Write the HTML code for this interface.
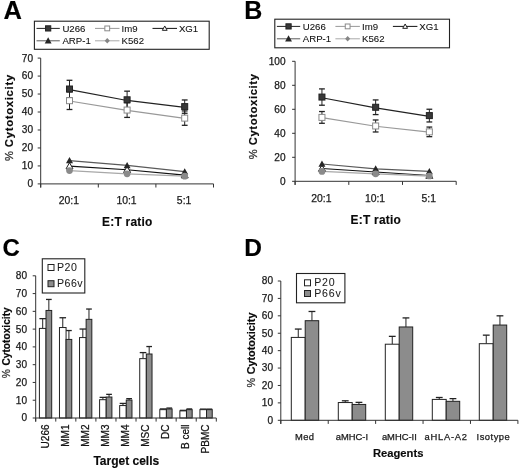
<!DOCTYPE html><html><head><meta charset="utf-8"><style>html,body{margin:0;padding:0;background:#fff;}svg{display:block;filter:blur(0.3px);}text{font-family:"Liberation Sans",sans-serif;}</style></head><body>
<svg width="520" height="469" viewBox="0 0 520 469">
<rect width="520" height="469" fill="#fff"/>
<line x1="40.70" y1="58.10" x2="40.70" y2="187.50" stroke="#333" stroke-width="1"/>
<line x1="37.70" y1="183.90" x2="40.70" y2="183.90" stroke="#333" stroke-width="1"/>
<text x="33.10" y="187.30" font-size="10.1" text-anchor="end" font-weight="normal" fill="#1a1a1a" stroke="#1a1a1a" stroke-width="0.25" >0</text>
<line x1="37.70" y1="165.93" x2="40.70" y2="165.93" stroke="#333" stroke-width="1"/>
<text x="33.10" y="169.33" font-size="10.1" text-anchor="end" font-weight="normal" fill="#1a1a1a" stroke="#1a1a1a" stroke-width="0.25" >10</text>
<line x1="37.70" y1="147.96" x2="40.70" y2="147.96" stroke="#333" stroke-width="1"/>
<text x="33.10" y="151.36" font-size="10.1" text-anchor="end" font-weight="normal" fill="#1a1a1a" stroke="#1a1a1a" stroke-width="0.25" >20</text>
<line x1="37.70" y1="129.99" x2="40.70" y2="129.99" stroke="#333" stroke-width="1"/>
<text x="33.10" y="133.39" font-size="10.1" text-anchor="end" font-weight="normal" fill="#1a1a1a" stroke="#1a1a1a" stroke-width="0.25" >30</text>
<line x1="37.70" y1="112.01" x2="40.70" y2="112.01" stroke="#333" stroke-width="1"/>
<text x="33.10" y="115.41" font-size="10.1" text-anchor="end" font-weight="normal" fill="#1a1a1a" stroke="#1a1a1a" stroke-width="0.25" >40</text>
<line x1="37.70" y1="94.04" x2="40.70" y2="94.04" stroke="#333" stroke-width="1"/>
<text x="33.10" y="97.44" font-size="10.1" text-anchor="end" font-weight="normal" fill="#1a1a1a" stroke="#1a1a1a" stroke-width="0.25" >50</text>
<line x1="37.70" y1="76.07" x2="40.70" y2="76.07" stroke="#333" stroke-width="1"/>
<text x="33.10" y="79.47" font-size="10.1" text-anchor="end" font-weight="normal" fill="#1a1a1a" stroke="#1a1a1a" stroke-width="0.25" >60</text>
<line x1="37.70" y1="58.10" x2="40.70" y2="58.10" stroke="#333" stroke-width="1"/>
<text x="33.10" y="61.50" font-size="10.1" text-anchor="end" font-weight="normal" fill="#1a1a1a" stroke="#1a1a1a" stroke-width="0.25" >70</text>
<line x1="40.70" y1="183.90" x2="213.50" y2="183.90" stroke="#333" stroke-width="1"/>
<line x1="40.70" y1="183.90" x2="40.70" y2="187.50" stroke="#333" stroke-width="1"/>
<line x1="98.30" y1="183.90" x2="98.30" y2="187.50" stroke="#333" stroke-width="1"/>
<line x1="155.90" y1="183.90" x2="155.90" y2="187.50" stroke="#333" stroke-width="1"/>
<line x1="213.50" y1="183.90" x2="213.50" y2="187.50" stroke="#333" stroke-width="1"/>
<text x="68.90" y="204.40" font-size="10.4" text-anchor="middle" font-weight="normal" fill="#1a1a1a" stroke="#1a1a1a" stroke-width="0.25" >20:1</text>
<text x="126.50" y="204.40" font-size="10.4" text-anchor="middle" font-weight="normal" fill="#1a1a1a" stroke="#1a1a1a" stroke-width="0.25" >10:1</text>
<text x="184.10" y="204.40" font-size="10.4" text-anchor="middle" font-weight="normal" fill="#1a1a1a" stroke="#1a1a1a" stroke-width="0.25" >5:1</text>
<text x="127.30" y="226.10" font-size="11.9" text-anchor="middle" font-weight="bold" fill="#0a0a0a" stroke="#0a0a0a" stroke-width="0.15" letter-spacing="0.25">E:T ratio</text>
<line x1="69.50" y1="80.29" x2="69.50" y2="97.73" stroke="#222" stroke-width="1"/>
<line x1="66.60" y1="80.29" x2="72.40" y2="80.29" stroke="#222" stroke-width="1.3"/>
<line x1="66.60" y1="97.73" x2="72.40" y2="97.73" stroke="#222" stroke-width="1.3"/>
<line x1="127.10" y1="91.17" x2="127.10" y2="108.42" stroke="#222" stroke-width="1"/>
<line x1="124.20" y1="91.17" x2="130.00" y2="91.17" stroke="#222" stroke-width="1.3"/>
<line x1="124.20" y1="108.42" x2="130.00" y2="108.42" stroke="#222" stroke-width="1.3"/>
<line x1="184.70" y1="99.97" x2="184.70" y2="113.27" stroke="#222" stroke-width="1"/>
<line x1="181.80" y1="99.97" x2="187.60" y2="99.97" stroke="#222" stroke-width="1.3"/>
<line x1="181.80" y1="113.27" x2="187.60" y2="113.27" stroke="#222" stroke-width="1.3"/>
<line x1="69.50" y1="91.89" x2="69.50" y2="109.50" stroke="#222" stroke-width="1"/>
<line x1="66.60" y1="91.89" x2="72.40" y2="91.89" stroke="#222" stroke-width="1.3"/>
<line x1="66.60" y1="109.50" x2="72.40" y2="109.50" stroke="#222" stroke-width="1.3"/>
<line x1="127.10" y1="102.67" x2="127.10" y2="117.41" stroke="#222" stroke-width="1"/>
<line x1="124.20" y1="102.67" x2="130.00" y2="102.67" stroke="#222" stroke-width="1.3"/>
<line x1="124.20" y1="117.41" x2="130.00" y2="117.41" stroke="#222" stroke-width="1.3"/>
<line x1="184.70" y1="110.94" x2="184.70" y2="125.31" stroke="#222" stroke-width="1"/>
<line x1="181.80" y1="110.94" x2="187.60" y2="110.94" stroke="#222" stroke-width="1.3"/>
<line x1="181.80" y1="125.31" x2="187.60" y2="125.31" stroke="#222" stroke-width="1.3"/>
<polyline points="69.50,89.71 127.10,100.49 184.70,107.32" fill="none" stroke="#222" stroke-width="1.25"/>
<polyline points="69.50,100.99 127.10,110.34 184.70,118.42" fill="none" stroke="#999" stroke-width="1.2"/>
<polyline points="69.50,166.11 127.10,169.70 184.70,175.09" fill="none" stroke="#111" stroke-width="1.1"/>
<polyline points="69.50,160.54 127.10,165.39 184.70,171.68" fill="none" stroke="#5a5a5a" stroke-width="1.2"/>
<polyline points="69.50,170.60 127.10,173.84 184.70,176.17" fill="none" stroke="#a8a8a8" stroke-width="1.4"/>
<rect x="66.50" y="86.01" width="6.00" height="6.00" fill="#383838" stroke="#222" stroke-width="1"/>
<rect x="124.10" y="96.79" width="6.00" height="6.00" fill="#383838" stroke="#222" stroke-width="1"/>
<rect x="181.70" y="103.62" width="6.00" height="6.00" fill="#383838" stroke="#222" stroke-width="1"/>
<rect x="66.50" y="97.69" width="6.00" height="6.00" fill="#fff" stroke="#8a8a8a" stroke-width="1"/>
<rect x="124.10" y="107.04" width="6.00" height="6.00" fill="#fff" stroke="#8a8a8a" stroke-width="1"/>
<rect x="181.70" y="115.12" width="6.00" height="6.00" fill="#fff" stroke="#8a8a8a" stroke-width="1"/>
<polygon points="69.50,162.61 73.00,168.91 66.00,168.91" fill="#fff" stroke="#222" stroke-width="1"/>
<polygon points="127.10,166.20 130.60,172.50 123.60,172.50" fill="#fff" stroke="#222" stroke-width="1"/>
<polygon points="184.70,171.59 188.20,177.89 181.20,177.89" fill="#fff" stroke="#222" stroke-width="1"/>
<polygon points="69.50,157.04 73.00,163.34 66.00,163.34" fill="#262626"/>
<polygon points="127.10,161.89 130.60,168.19 123.60,168.19" fill="#262626"/>
<polygon points="184.70,168.18 188.20,174.48 181.20,174.48" fill="#262626"/>
<circle cx="69.50" cy="170.60" r="3.35" fill="#8a8a8a"/>
<circle cx="127.10" cy="173.84" r="3.35" fill="#8a8a8a"/>
<circle cx="184.70" cy="176.17" r="3.35" fill="#8a8a8a"/>
<text transform="translate(12.50,117.60) rotate(-90)" font-size="11.2" fill="#0a0a0a" text-anchor="middle"><tspan font-weight="normal" fill="#333" stroke="#333" stroke-width="0.25">%</tspan><tspan font-weight="bold" dx="4" letter-spacing="0.75" stroke="#0a0a0a" stroke-width="0.15">Cytotoxicity</tspan></text>
<rect x="34.40" y="21.20" width="174.80" height="28.10" fill="#fff" stroke="#222" stroke-width="1.1"/>
<line x1="36.50" y1="28.40" x2="59.80" y2="28.40" stroke="#222" stroke-width="1"/>
<rect x="45.54" y="25.79" width="5.22" height="5.22" fill="#383838" stroke="#222" stroke-width="1"/>
<text x="62.40" y="31.90" font-size="9.65" text-anchor="start" font-weight="normal" fill="#111" stroke="#111" stroke-width="0.08" >U266</text>
<line x1="95.00" y1="28.40" x2="119.50" y2="28.40" stroke="#999" stroke-width="1"/>
<rect x="104.85" y="26.00" width="4.80" height="4.80" fill="#fff" stroke="#8a8a8a" stroke-width="1"/>
<text x="121.60" y="31.90" font-size="9.65" text-anchor="start" font-weight="normal" fill="#111" stroke="#111" stroke-width="0.08" >Im9</text>
<line x1="152.50" y1="28.40" x2="177.00" y2="28.40" stroke="#111" stroke-width="1"/>
<polygon points="164.75,25.98 167.16,30.33 162.34,30.33" fill="#fff" stroke="#222" stroke-width="1"/>
<text x="178.90" y="31.90" font-size="9.65" text-anchor="start" font-weight="normal" fill="#111" stroke="#111" stroke-width="0.08" >XG1</text>
<line x1="36.50" y1="40.80" x2="59.80" y2="40.80" stroke="#5a5a5a" stroke-width="1"/>
<polygon points="48.15,37.37 51.58,43.54 44.72,43.54" fill="#262626"/>
<text x="62.40" y="44.30" font-size="9.65" text-anchor="start" font-weight="normal" fill="#111" stroke="#111" stroke-width="0.08" >ARP-1</text>
<line x1="95.00" y1="40.80" x2="119.50" y2="40.80" stroke="#a8a8a8" stroke-width="1"/>
<polygon points="107.25,38.00 109.77,40.80 107.25,43.60 104.73,40.80" fill="#858585"/>
<text x="121.60" y="44.30" font-size="9.65" text-anchor="start" font-weight="normal" fill="#111" stroke="#111" stroke-width="0.08" >K562</text>
<text x="3.40" y="18.90" font-size="25.5" text-anchor="start" font-weight="bold" fill="#000" stroke="#000" stroke-width="0.15" >A</text>
<line x1="295.10" y1="61.30" x2="295.10" y2="184.90" stroke="#333" stroke-width="1"/>
<line x1="292.10" y1="181.30" x2="295.10" y2="181.30" stroke="#333" stroke-width="1"/>
<text x="285.50" y="184.70" font-size="10.1" text-anchor="end" font-weight="normal" fill="#1a1a1a" stroke="#1a1a1a" stroke-width="0.25" >0</text>
<line x1="292.10" y1="157.30" x2="295.10" y2="157.30" stroke="#333" stroke-width="1"/>
<text x="285.50" y="160.70" font-size="10.1" text-anchor="end" font-weight="normal" fill="#1a1a1a" stroke="#1a1a1a" stroke-width="0.25" >20</text>
<line x1="292.10" y1="133.30" x2="295.10" y2="133.30" stroke="#333" stroke-width="1"/>
<text x="285.50" y="136.70" font-size="10.1" text-anchor="end" font-weight="normal" fill="#1a1a1a" stroke="#1a1a1a" stroke-width="0.25" >40</text>
<line x1="292.10" y1="109.30" x2="295.10" y2="109.30" stroke="#333" stroke-width="1"/>
<text x="285.50" y="112.70" font-size="10.1" text-anchor="end" font-weight="normal" fill="#1a1a1a" stroke="#1a1a1a" stroke-width="0.25" >60</text>
<line x1="292.10" y1="85.30" x2="295.10" y2="85.30" stroke="#333" stroke-width="1"/>
<text x="285.50" y="88.70" font-size="10.1" text-anchor="end" font-weight="normal" fill="#1a1a1a" stroke="#1a1a1a" stroke-width="0.25" >80</text>
<line x1="292.10" y1="61.30" x2="295.10" y2="61.30" stroke="#333" stroke-width="1"/>
<text x="285.50" y="64.70" font-size="10.1" text-anchor="end" font-weight="normal" fill="#1a1a1a" stroke="#1a1a1a" stroke-width="0.25" >100</text>
<line x1="295.10" y1="181.30" x2="456.20" y2="181.30" stroke="#333" stroke-width="1"/>
<line x1="295.10" y1="181.30" x2="295.10" y2="184.90" stroke="#333" stroke-width="1"/>
<line x1="348.80" y1="181.30" x2="348.80" y2="184.90" stroke="#333" stroke-width="1"/>
<line x1="402.50" y1="181.30" x2="402.50" y2="184.90" stroke="#333" stroke-width="1"/>
<line x1="456.20" y1="181.30" x2="456.20" y2="184.90" stroke="#333" stroke-width="1"/>
<text x="321.35" y="201.80" font-size="10.4" text-anchor="middle" font-weight="normal" fill="#1a1a1a" stroke="#1a1a1a" stroke-width="0.25" >20:1</text>
<text x="375.05" y="201.80" font-size="10.4" text-anchor="middle" font-weight="normal" fill="#1a1a1a" stroke="#1a1a1a" stroke-width="0.25" >10:1</text>
<text x="428.75" y="201.80" font-size="10.4" text-anchor="middle" font-weight="normal" fill="#1a1a1a" stroke="#1a1a1a" stroke-width="0.25" >5:1</text>
<text x="375.85" y="224.40" font-size="11.9" text-anchor="middle" font-weight="bold" fill="#0a0a0a" stroke="#0a0a0a" stroke-width="0.15" letter-spacing="0.25">E:T ratio</text>
<line x1="321.95" y1="88.90" x2="321.95" y2="105.22" stroke="#222" stroke-width="1"/>
<line x1="319.05" y1="88.90" x2="324.85" y2="88.90" stroke="#222" stroke-width="1.3"/>
<line x1="319.05" y1="105.22" x2="324.85" y2="105.22" stroke="#222" stroke-width="1.3"/>
<line x1="375.65" y1="99.94" x2="375.65" y2="114.58" stroke="#222" stroke-width="1"/>
<line x1="372.75" y1="99.94" x2="378.55" y2="99.94" stroke="#222" stroke-width="1.3"/>
<line x1="372.75" y1="114.58" x2="378.55" y2="114.58" stroke="#222" stroke-width="1.3"/>
<line x1="429.35" y1="109.24" x2="429.35" y2="121.96" stroke="#222" stroke-width="1"/>
<line x1="426.45" y1="109.24" x2="432.25" y2="109.24" stroke="#222" stroke-width="1.3"/>
<line x1="426.45" y1="121.96" x2="432.25" y2="121.96" stroke="#222" stroke-width="1.3"/>
<line x1="321.95" y1="111.52" x2="321.95" y2="123.28" stroke="#222" stroke-width="1"/>
<line x1="319.05" y1="111.52" x2="324.85" y2="111.52" stroke="#222" stroke-width="1.3"/>
<line x1="319.05" y1="123.28" x2="324.85" y2="123.28" stroke="#222" stroke-width="1.3"/>
<line x1="375.65" y1="119.98" x2="375.65" y2="131.98" stroke="#222" stroke-width="1"/>
<line x1="372.75" y1="119.98" x2="378.55" y2="119.98" stroke="#222" stroke-width="1.3"/>
<line x1="372.75" y1="131.98" x2="378.55" y2="131.98" stroke="#222" stroke-width="1.3"/>
<line x1="429.35" y1="127.06" x2="429.35" y2="136.66" stroke="#222" stroke-width="1"/>
<line x1="426.45" y1="127.06" x2="432.25" y2="127.06" stroke="#222" stroke-width="1.3"/>
<line x1="426.45" y1="136.66" x2="432.25" y2="136.66" stroke="#222" stroke-width="1.3"/>
<polyline points="321.95,97.76 375.65,107.96 429.35,116.30" fill="none" stroke="#222" stroke-width="1.25"/>
<polyline points="321.95,117.70 375.65,126.28 429.35,132.16" fill="none" stroke="#999" stroke-width="1.2"/>
<polyline points="321.95,168.46 375.65,171.94 429.35,175.54" fill="none" stroke="#111" stroke-width="1.1"/>
<polyline points="321.95,164.02 375.65,168.82 429.35,171.46" fill="none" stroke="#5a5a5a" stroke-width="1.2"/>
<polyline points="321.95,171.40 375.65,173.86 429.35,176.02" fill="none" stroke="#a8a8a8" stroke-width="1.4"/>
<rect x="318.95" y="94.06" width="6.00" height="6.00" fill="#383838" stroke="#222" stroke-width="1"/>
<rect x="372.65" y="104.26" width="6.00" height="6.00" fill="#383838" stroke="#222" stroke-width="1"/>
<rect x="426.35" y="112.60" width="6.00" height="6.00" fill="#383838" stroke="#222" stroke-width="1"/>
<rect x="318.95" y="114.40" width="6.00" height="6.00" fill="#fff" stroke="#8a8a8a" stroke-width="1"/>
<rect x="372.65" y="122.98" width="6.00" height="6.00" fill="#fff" stroke="#8a8a8a" stroke-width="1"/>
<rect x="426.35" y="128.86" width="6.00" height="6.00" fill="#fff" stroke="#8a8a8a" stroke-width="1"/>
<polygon points="321.95,164.96 325.45,171.26 318.45,171.26" fill="#fff" stroke="#222" stroke-width="1"/>
<polygon points="375.65,168.44 379.15,174.74 372.15,174.74" fill="#fff" stroke="#222" stroke-width="1"/>
<polygon points="429.35,172.04 432.85,178.34 425.85,178.34" fill="#fff" stroke="#222" stroke-width="1"/>
<polygon points="321.95,160.52 325.45,166.82 318.45,166.82" fill="#262626"/>
<polygon points="375.65,165.32 379.15,171.62 372.15,171.62" fill="#262626"/>
<polygon points="429.35,167.96 432.85,174.26 425.85,174.26" fill="#262626"/>
<circle cx="321.95" cy="171.40" r="3.35" fill="#8a8a8a"/>
<circle cx="375.65" cy="173.86" r="3.35" fill="#8a8a8a"/>
<circle cx="429.35" cy="176.02" r="3.35" fill="#8a8a8a"/>
<text transform="translate(257.20,116.30) rotate(-90)" font-size="11.2" fill="#0a0a0a" text-anchor="middle"><tspan font-weight="normal" fill="#333" stroke="#333" stroke-width="0.25">%</tspan><tspan font-weight="bold" dx="4" letter-spacing="0.65" stroke="#0a0a0a" stroke-width="0.15">Cytotoxicity</tspan></text>
<rect x="274.80" y="19.20" width="174.70" height="28.60" fill="#fff" stroke="#222" stroke-width="1.1"/>
<line x1="276.90" y1="26.40" x2="300.20" y2="26.40" stroke="#222" stroke-width="1"/>
<rect x="285.94" y="23.79" width="5.22" height="5.22" fill="#383838" stroke="#222" stroke-width="1"/>
<text x="302.80" y="29.90" font-size="9.65" text-anchor="start" font-weight="normal" fill="#111" stroke="#111" stroke-width="0.08" >U266</text>
<line x1="335.40" y1="26.40" x2="359.90" y2="26.40" stroke="#999" stroke-width="1"/>
<rect x="345.25" y="24.00" width="4.80" height="4.80" fill="#fff" stroke="#8a8a8a" stroke-width="1"/>
<text x="362.00" y="29.90" font-size="9.65" text-anchor="start" font-weight="normal" fill="#111" stroke="#111" stroke-width="0.08" >Im9</text>
<line x1="392.90" y1="26.40" x2="417.40" y2="26.40" stroke="#111" stroke-width="1"/>
<polygon points="405.15,23.98 407.56,28.33 402.73,28.33" fill="#fff" stroke="#222" stroke-width="1"/>
<text x="419.30" y="29.90" font-size="9.65" text-anchor="start" font-weight="normal" fill="#111" stroke="#111" stroke-width="0.08" >XG1</text>
<line x1="276.90" y1="38.80" x2="300.20" y2="38.80" stroke="#5a5a5a" stroke-width="1"/>
<polygon points="288.55,35.37 291.98,41.54 285.12,41.54" fill="#262626"/>
<text x="302.80" y="42.30" font-size="9.65" text-anchor="start" font-weight="normal" fill="#111" stroke="#111" stroke-width="0.08" >ARP-1</text>
<line x1="335.40" y1="38.80" x2="359.90" y2="38.80" stroke="#a8a8a8" stroke-width="1"/>
<polygon points="347.65,36.00 350.17,38.80 347.65,41.60 345.13,38.80" fill="#858585"/>
<text x="362.00" y="42.30" font-size="9.65" text-anchor="start" font-weight="normal" fill="#111" stroke="#111" stroke-width="0.08" >K562</text>
<text x="244.20" y="19.10" font-size="25" text-anchor="start" font-weight="bold" fill="#000" stroke="#000" stroke-width="0.15" >B</text>
<line x1="42.70" y1="318.64" x2="42.70" y2="328.41" stroke="#222" stroke-width="1"/>
<line x1="39.40" y1="318.64" x2="46.00" y2="318.64" stroke="#222" stroke-width="1.3"/>
<line x1="48.85" y1="299.44" x2="48.85" y2="310.46" stroke="#222" stroke-width="1"/>
<line x1="46.00" y1="299.44" x2="51.70" y2="299.44" stroke="#222" stroke-width="1.3"/>
<rect x="39.40" y="328.41" width="6.60" height="89.59" fill="#fff" stroke="#222" stroke-width="1"/>
<rect x="46.00" y="310.46" width="5.70" height="107.54" fill="#8c8c8c" stroke="#222" stroke-width="1"/>
<line x1="62.77" y1="317.75" x2="62.77" y2="327.53" stroke="#222" stroke-width="1"/>
<line x1="59.47" y1="317.75" x2="66.07" y2="317.75" stroke="#222" stroke-width="1.3"/>
<line x1="68.92" y1="330.55" x2="68.92" y2="339.43" stroke="#222" stroke-width="1"/>
<line x1="66.07" y1="330.55" x2="71.77" y2="330.55" stroke="#222" stroke-width="1.3"/>
<rect x="59.47" y="327.53" width="6.60" height="90.47" fill="#fff" stroke="#222" stroke-width="1"/>
<rect x="66.07" y="339.43" width="5.70" height="78.57" fill="#8c8c8c" stroke="#222" stroke-width="1"/>
<line x1="82.83" y1="329.04" x2="82.83" y2="337.57" stroke="#222" stroke-width="1"/>
<line x1="79.53" y1="329.04" x2="86.13" y2="329.04" stroke="#222" stroke-width="1.3"/>
<line x1="88.98" y1="309.04" x2="88.98" y2="319.35" stroke="#222" stroke-width="1"/>
<line x1="86.13" y1="309.04" x2="91.83" y2="309.04" stroke="#222" stroke-width="1.3"/>
<rect x="79.53" y="337.57" width="6.60" height="80.43" fill="#fff" stroke="#222" stroke-width="1"/>
<rect x="86.13" y="319.35" width="5.70" height="98.65" fill="#8c8c8c" stroke="#222" stroke-width="1"/>
<line x1="102.90" y1="397.38" x2="102.90" y2="399.69" stroke="#222" stroke-width="1"/>
<line x1="99.60" y1="397.38" x2="106.20" y2="397.38" stroke="#222" stroke-width="1.3"/>
<line x1="109.05" y1="394.36" x2="109.05" y2="397.03" stroke="#222" stroke-width="1"/>
<line x1="106.20" y1="394.36" x2="111.90" y2="394.36" stroke="#222" stroke-width="1.3"/>
<rect x="99.60" y="399.69" width="6.60" height="18.31" fill="#fff" stroke="#222" stroke-width="1"/>
<rect x="106.20" y="397.03" width="5.70" height="20.97" fill="#8c8c8c" stroke="#222" stroke-width="1"/>
<line x1="122.97" y1="403.42" x2="122.97" y2="405.56" stroke="#222" stroke-width="1"/>
<line x1="119.67" y1="403.42" x2="126.27" y2="403.42" stroke="#222" stroke-width="1.3"/>
<line x1="129.12" y1="398.63" x2="129.12" y2="400.05" stroke="#222" stroke-width="1"/>
<line x1="126.27" y1="398.63" x2="131.97" y2="398.63" stroke="#222" stroke-width="1.3"/>
<rect x="119.67" y="405.56" width="6.60" height="12.44" fill="#fff" stroke="#222" stroke-width="1"/>
<rect x="126.27" y="400.05" width="5.70" height="17.95" fill="#8c8c8c" stroke="#222" stroke-width="1"/>
<line x1="143.03" y1="352.59" x2="143.03" y2="358.63" stroke="#222" stroke-width="1"/>
<line x1="139.73" y1="352.59" x2="146.33" y2="352.59" stroke="#222" stroke-width="1.3"/>
<line x1="149.18" y1="346.54" x2="149.18" y2="354.01" stroke="#222" stroke-width="1"/>
<line x1="146.33" y1="346.54" x2="152.03" y2="346.54" stroke="#222" stroke-width="1.3"/>
<rect x="139.73" y="358.63" width="6.60" height="59.37" fill="#fff" stroke="#222" stroke-width="1"/>
<rect x="146.33" y="354.01" width="5.70" height="63.99" fill="#8c8c8c" stroke="#222" stroke-width="1"/>
<line x1="163.10" y1="408.93" x2="163.10" y2="409.65" stroke="#222" stroke-width="1"/>
<line x1="159.80" y1="408.93" x2="166.40" y2="408.93" stroke="#222" stroke-width="1.3"/>
<line x1="169.25" y1="408.05" x2="169.25" y2="408.93" stroke="#222" stroke-width="1"/>
<line x1="166.40" y1="408.05" x2="172.10" y2="408.05" stroke="#222" stroke-width="1.3"/>
<rect x="159.80" y="409.65" width="6.60" height="8.35" fill="#fff" stroke="#222" stroke-width="1"/>
<rect x="166.40" y="408.93" width="5.70" height="9.07" fill="#8c8c8c" stroke="#222" stroke-width="1"/>
<line x1="183.17" y1="410.36" x2="183.17" y2="410.89" stroke="#222" stroke-width="1"/>
<line x1="179.87" y1="410.36" x2="186.47" y2="410.36" stroke="#222" stroke-width="1.3"/>
<line x1="189.32" y1="408.93" x2="189.32" y2="409.65" stroke="#222" stroke-width="1"/>
<line x1="186.47" y1="408.93" x2="192.17" y2="408.93" stroke="#222" stroke-width="1.3"/>
<rect x="179.87" y="410.89" width="6.60" height="7.11" fill="#fff" stroke="#222" stroke-width="1"/>
<rect x="186.47" y="409.65" width="5.70" height="8.35" fill="#8c8c8c" stroke="#222" stroke-width="1"/>
<line x1="203.23" y1="409.11" x2="203.23" y2="409.65" stroke="#222" stroke-width="1"/>
<line x1="199.93" y1="409.11" x2="206.53" y2="409.11" stroke="#222" stroke-width="1.3"/>
<line x1="209.38" y1="409.11" x2="209.38" y2="409.65" stroke="#222" stroke-width="1"/>
<line x1="206.53" y1="409.11" x2="212.23" y2="409.11" stroke="#222" stroke-width="1.3"/>
<rect x="199.93" y="409.65" width="6.60" height="8.35" fill="#fff" stroke="#222" stroke-width="1"/>
<rect x="206.53" y="409.65" width="5.70" height="8.35" fill="#8c8c8c" stroke="#222" stroke-width="1"/>
<line x1="35.70" y1="275.80" x2="35.70" y2="421.60" stroke="#333" stroke-width="1"/>
<line x1="32.70" y1="418.00" x2="35.70" y2="418.00" stroke="#333" stroke-width="1"/>
<text x="27.10" y="421.40" font-size="10.1" text-anchor="end" font-weight="normal" fill="#1a1a1a" stroke="#1a1a1a" stroke-width="0.25" >0</text>
<line x1="32.70" y1="400.23" x2="35.70" y2="400.23" stroke="#333" stroke-width="1"/>
<text x="27.10" y="403.62" font-size="10.1" text-anchor="end" font-weight="normal" fill="#1a1a1a" stroke="#1a1a1a" stroke-width="0.25" >10</text>
<line x1="32.70" y1="382.45" x2="35.70" y2="382.45" stroke="#333" stroke-width="1"/>
<text x="27.10" y="385.85" font-size="10.1" text-anchor="end" font-weight="normal" fill="#1a1a1a" stroke="#1a1a1a" stroke-width="0.25" >20</text>
<line x1="32.70" y1="364.68" x2="35.70" y2="364.68" stroke="#333" stroke-width="1"/>
<text x="27.10" y="368.07" font-size="10.1" text-anchor="end" font-weight="normal" fill="#1a1a1a" stroke="#1a1a1a" stroke-width="0.25" >30</text>
<line x1="32.70" y1="346.90" x2="35.70" y2="346.90" stroke="#333" stroke-width="1"/>
<text x="27.10" y="350.30" font-size="10.1" text-anchor="end" font-weight="normal" fill="#1a1a1a" stroke="#1a1a1a" stroke-width="0.25" >40</text>
<line x1="32.70" y1="329.12" x2="35.70" y2="329.12" stroke="#333" stroke-width="1"/>
<text x="27.10" y="332.52" font-size="10.1" text-anchor="end" font-weight="normal" fill="#1a1a1a" stroke="#1a1a1a" stroke-width="0.25" >50</text>
<line x1="32.70" y1="311.35" x2="35.70" y2="311.35" stroke="#333" stroke-width="1"/>
<text x="27.10" y="314.75" font-size="10.1" text-anchor="end" font-weight="normal" fill="#1a1a1a" stroke="#1a1a1a" stroke-width="0.25" >60</text>
<line x1="32.70" y1="293.58" x2="35.70" y2="293.58" stroke="#333" stroke-width="1"/>
<text x="27.10" y="296.98" font-size="10.1" text-anchor="end" font-weight="normal" fill="#1a1a1a" stroke="#1a1a1a" stroke-width="0.25" >70</text>
<line x1="32.70" y1="275.80" x2="35.70" y2="275.80" stroke="#333" stroke-width="1"/>
<text x="27.10" y="279.20" font-size="10.1" text-anchor="end" font-weight="normal" fill="#1a1a1a" stroke="#1a1a1a" stroke-width="0.25" >80</text>
<line x1="35.70" y1="418.00" x2="216.30" y2="418.00" stroke="#333" stroke-width="1"/>
<line x1="35.70" y1="418.00" x2="35.70" y2="421.60" stroke="#333" stroke-width="1"/>
<line x1="55.77" y1="418.00" x2="55.77" y2="421.60" stroke="#333" stroke-width="1"/>
<line x1="75.83" y1="418.00" x2="75.83" y2="421.60" stroke="#333" stroke-width="1"/>
<line x1="95.90" y1="418.00" x2="95.90" y2="421.60" stroke="#333" stroke-width="1"/>
<line x1="115.97" y1="418.00" x2="115.97" y2="421.60" stroke="#333" stroke-width="1"/>
<line x1="136.03" y1="418.00" x2="136.03" y2="421.60" stroke="#333" stroke-width="1"/>
<line x1="156.10" y1="418.00" x2="156.10" y2="421.60" stroke="#333" stroke-width="1"/>
<line x1="176.17" y1="418.00" x2="176.17" y2="421.60" stroke="#333" stroke-width="1"/>
<line x1="196.23" y1="418.00" x2="196.23" y2="421.60" stroke="#333" stroke-width="1"/>
<line x1="216.30" y1="418.00" x2="216.30" y2="421.60" stroke="#333" stroke-width="1"/>
<text transform="translate(48.83,424.50) rotate(-90)" font-size="10" text-anchor="end" fill="#111" stroke="#111" stroke-width="0.25">U266</text>
<text transform="translate(68.90,424.50) rotate(-90)" font-size="10" text-anchor="end" fill="#111" stroke="#111" stroke-width="0.25">MM1</text>
<text transform="translate(88.97,424.50) rotate(-90)" font-size="10" text-anchor="end" fill="#111" stroke="#111" stroke-width="0.25">MM2</text>
<text transform="translate(109.03,424.50) rotate(-90)" font-size="10" text-anchor="end" fill="#111" stroke="#111" stroke-width="0.25">MM3</text>
<text transform="translate(129.10,424.50) rotate(-90)" font-size="10" text-anchor="end" fill="#111" stroke="#111" stroke-width="0.25">MM4</text>
<text transform="translate(149.17,424.50) rotate(-90)" font-size="10" text-anchor="end" fill="#111" stroke="#111" stroke-width="0.25">MSC</text>
<text transform="translate(169.23,424.50) rotate(-90)" font-size="10" text-anchor="end" fill="#111" stroke="#111" stroke-width="0.25">DC</text>
<text transform="translate(189.30,424.50) rotate(-90)" font-size="10" text-anchor="end" fill="#111" stroke="#111" stroke-width="0.25">B cell</text>
<text transform="translate(209.37,424.50) rotate(-90)" font-size="10" text-anchor="end" fill="#111" stroke="#111" stroke-width="0.25">PBMC</text>
<text x="126.30" y="464.90" font-size="12" text-anchor="middle" font-weight="bold" fill="#0a0a0a" stroke="#0a0a0a" stroke-width="0.15" >Target cells</text>
<text transform="translate(10.00,342.70) rotate(-90)" font-size="10.2" fill="#0a0a0a" text-anchor="middle"><tspan font-weight="normal" fill="#333" stroke="#333" stroke-width="0.25">%</tspan><tspan font-weight="bold" dx="3.5" letter-spacing="0" stroke="#0a0a0a" stroke-width="0.15">Cytotoxicity</tspan></text>
<rect x="42.30" y="258.80" width="42.50" height="34.20" fill="#fff" stroke="#222" stroke-width="1.1"/>
<rect x="48.00" y="264.50" width="6.00" height="6.00" fill="#fff" stroke="#222" stroke-width="1"/>
<text x="57.10" y="270.60" font-size="10.6" text-anchor="start" font-weight="normal" fill="#1a1a1a" stroke="#1a1a1a" stroke-width="0.05" letter-spacing="0.45">P20</text>
<rect x="48.00" y="280.70" width="6.00" height="6.00" fill="#8c8c8c" stroke="#222" stroke-width="1"/>
<text x="57.10" y="286.80" font-size="10.6" text-anchor="start" font-weight="normal" fill="#1a1a1a" stroke="#1a1a1a" stroke-width="0.05" letter-spacing="0.45">P66v</text>
<text x="2.60" y="255.60" font-size="24" text-anchor="start" font-weight="bold" fill="#000" stroke="#000" stroke-width="0.15" >C</text>
<line x1="298.25" y1="329.06" x2="298.25" y2="337.42" stroke="#222" stroke-width="1"/>
<line x1="294.85" y1="329.06" x2="301.65" y2="329.06" stroke="#222" stroke-width="1.3"/>
<line x1="311.95" y1="311.47" x2="311.95" y2="320.70" stroke="#222" stroke-width="1"/>
<line x1="308.55" y1="311.47" x2="315.35" y2="311.47" stroke="#222" stroke-width="1.3"/>
<rect x="291.30" y="337.42" width="13.90" height="82.88" fill="#fff" stroke="#222" stroke-width="1"/>
<rect x="305.20" y="320.70" width="13.50" height="99.60" fill="#8c8c8c" stroke="#222" stroke-width="1"/>
<line x1="345.25" y1="400.80" x2="345.25" y2="402.54" stroke="#222" stroke-width="1"/>
<line x1="341.85" y1="400.80" x2="348.65" y2="400.80" stroke="#222" stroke-width="1.3"/>
<line x1="358.95" y1="402.37" x2="358.95" y2="404.45" stroke="#222" stroke-width="1"/>
<line x1="355.55" y1="402.37" x2="362.35" y2="402.37" stroke="#222" stroke-width="1.3"/>
<rect x="338.30" y="402.54" width="13.90" height="17.76" fill="#fff" stroke="#222" stroke-width="1"/>
<rect x="352.20" y="404.45" width="13.50" height="15.85" fill="#8c8c8c" stroke="#222" stroke-width="1"/>
<line x1="392.25" y1="336.37" x2="392.25" y2="344.21" stroke="#222" stroke-width="1"/>
<line x1="388.85" y1="336.37" x2="395.65" y2="336.37" stroke="#222" stroke-width="1.3"/>
<line x1="405.95" y1="317.91" x2="405.95" y2="326.97" stroke="#222" stroke-width="1"/>
<line x1="402.55" y1="317.91" x2="409.35" y2="317.91" stroke="#222" stroke-width="1.3"/>
<rect x="385.30" y="344.21" width="13.90" height="76.09" fill="#fff" stroke="#222" stroke-width="1"/>
<rect x="399.20" y="326.97" width="13.50" height="93.33" fill="#8c8c8c" stroke="#222" stroke-width="1"/>
<line x1="439.25" y1="397.49" x2="439.25" y2="399.41" stroke="#222" stroke-width="1"/>
<line x1="435.85" y1="397.49" x2="442.65" y2="397.49" stroke="#222" stroke-width="1.3"/>
<line x1="452.95" y1="398.62" x2="452.95" y2="401.32" stroke="#222" stroke-width="1"/>
<line x1="449.55" y1="398.62" x2="456.35" y2="398.62" stroke="#222" stroke-width="1.3"/>
<rect x="432.30" y="399.41" width="13.90" height="20.89" fill="#fff" stroke="#222" stroke-width="1"/>
<rect x="446.20" y="401.32" width="13.50" height="18.98" fill="#8c8c8c" stroke="#222" stroke-width="1"/>
<line x1="486.25" y1="335.15" x2="486.25" y2="343.69" stroke="#222" stroke-width="1"/>
<line x1="482.85" y1="335.15" x2="489.65" y2="335.15" stroke="#222" stroke-width="1.3"/>
<line x1="499.95" y1="315.82" x2="499.95" y2="325.05" stroke="#222" stroke-width="1"/>
<line x1="496.55" y1="315.82" x2="503.35" y2="315.82" stroke="#222" stroke-width="1.3"/>
<rect x="479.30" y="343.69" width="13.90" height="76.62" fill="#fff" stroke="#222" stroke-width="1"/>
<rect x="493.20" y="325.05" width="13.50" height="95.25" fill="#8c8c8c" stroke="#222" stroke-width="1"/>
<line x1="280.80" y1="281.00" x2="280.80" y2="423.90" stroke="#333" stroke-width="1"/>
<line x1="277.80" y1="420.30" x2="280.80" y2="420.30" stroke="#333" stroke-width="1"/>
<text x="273.00" y="423.70" font-size="10.1" text-anchor="end" font-weight="normal" fill="#1a1a1a" stroke="#1a1a1a" stroke-width="0.25" >0</text>
<line x1="277.80" y1="402.89" x2="280.80" y2="402.89" stroke="#333" stroke-width="1"/>
<text x="273.00" y="406.29" font-size="10.1" text-anchor="end" font-weight="normal" fill="#1a1a1a" stroke="#1a1a1a" stroke-width="0.25" >10</text>
<line x1="277.80" y1="385.48" x2="280.80" y2="385.48" stroke="#333" stroke-width="1"/>
<text x="273.00" y="388.88" font-size="10.1" text-anchor="end" font-weight="normal" fill="#1a1a1a" stroke="#1a1a1a" stroke-width="0.25" >20</text>
<line x1="277.80" y1="368.06" x2="280.80" y2="368.06" stroke="#333" stroke-width="1"/>
<text x="273.00" y="371.46" font-size="10.1" text-anchor="end" font-weight="normal" fill="#1a1a1a" stroke="#1a1a1a" stroke-width="0.25" >30</text>
<line x1="277.80" y1="350.65" x2="280.80" y2="350.65" stroke="#333" stroke-width="1"/>
<text x="273.00" y="354.05" font-size="10.1" text-anchor="end" font-weight="normal" fill="#1a1a1a" stroke="#1a1a1a" stroke-width="0.25" >40</text>
<line x1="277.80" y1="333.24" x2="280.80" y2="333.24" stroke="#333" stroke-width="1"/>
<text x="273.00" y="336.64" font-size="10.1" text-anchor="end" font-weight="normal" fill="#1a1a1a" stroke="#1a1a1a" stroke-width="0.25" >50</text>
<line x1="277.80" y1="315.82" x2="280.80" y2="315.82" stroke="#333" stroke-width="1"/>
<text x="273.00" y="319.22" font-size="10.1" text-anchor="end" font-weight="normal" fill="#1a1a1a" stroke="#1a1a1a" stroke-width="0.25" >60</text>
<line x1="277.80" y1="298.41" x2="280.80" y2="298.41" stroke="#333" stroke-width="1"/>
<text x="273.00" y="301.81" font-size="10.1" text-anchor="end" font-weight="normal" fill="#1a1a1a" stroke="#1a1a1a" stroke-width="0.25" >70</text>
<line x1="277.80" y1="281.00" x2="280.80" y2="281.00" stroke="#333" stroke-width="1"/>
<text x="273.00" y="284.40" font-size="10.1" text-anchor="end" font-weight="normal" fill="#1a1a1a" stroke="#1a1a1a" stroke-width="0.25" >80</text>
<line x1="280.80" y1="420.30" x2="517.90" y2="420.30" stroke="#333" stroke-width="1"/>
<line x1="280.80" y1="420.30" x2="280.80" y2="423.90" stroke="#333" stroke-width="1"/>
<line x1="328.22" y1="420.30" x2="328.22" y2="423.90" stroke="#333" stroke-width="1"/>
<line x1="375.64" y1="420.30" x2="375.64" y2="423.90" stroke="#333" stroke-width="1"/>
<line x1="423.06" y1="420.30" x2="423.06" y2="423.90" stroke="#333" stroke-width="1"/>
<line x1="470.48" y1="420.30" x2="470.48" y2="423.90" stroke="#333" stroke-width="1"/>
<line x1="517.90" y1="420.30" x2="517.90" y2="423.90" stroke="#333" stroke-width="1"/>
<text x="304.66" y="439.80" font-size="9.4" text-anchor="middle" font-weight="normal" fill="#1a1a1a" stroke="#1a1a1a" stroke-width="0.25" letter-spacing="0.3">Med</text>
<text x="351.93" y="439.80" font-size="9.4" text-anchor="middle" font-weight="normal" fill="#1a1a1a" stroke="#1a1a1a" stroke-width="0.25" letter-spacing="0">aMHC-I</text>
<text x="399.35" y="439.80" font-size="9.4" text-anchor="middle" font-weight="normal" fill="#1a1a1a" stroke="#1a1a1a" stroke-width="0.25" letter-spacing="0">aMHC-II</text>
<text x="446.14" y="439.80" font-size="9.4" text-anchor="middle" font-weight="normal" fill="#1a1a1a" stroke="#1a1a1a" stroke-width="0.25" letter-spacing="0.75">aHLA-A2</text>
<text x="493.44" y="439.80" font-size="9.4" text-anchor="middle" font-weight="normal" fill="#1a1a1a" stroke="#1a1a1a" stroke-width="0.25" letter-spacing="0.5">Isotype</text>
<text x="398.20" y="456.90" font-size="11.2" text-anchor="middle" font-weight="bold" fill="#0a0a0a" stroke="#0a0a0a" stroke-width="0.15" >Reagents</text>
<text transform="translate(255.00,350.00) rotate(-90)" font-size="10.8" fill="#0a0a0a" text-anchor="middle"><tspan font-weight="normal" fill="#333" stroke="#333" stroke-width="0.25">%</tspan><tspan font-weight="bold" dx="3.5" letter-spacing="0" stroke="#0a0a0a" stroke-width="0.15">Cytotoxicity</tspan></text>
<rect x="296.50" y="273.50" width="48.40" height="29.30" fill="#fff" stroke="#222" stroke-width="1.1"/>
<rect x="304.50" y="279.80" width="6.00" height="6.00" fill="#fff" stroke="#222" stroke-width="1"/>
<text x="314.20" y="285.90" font-size="10.6" text-anchor="start" font-weight="normal" fill="#1a1a1a" stroke="#1a1a1a" stroke-width="0.05" letter-spacing="0.8">P20</text>
<rect x="304.50" y="290.50" width="6.00" height="6.00" fill="#8c8c8c" stroke="#222" stroke-width="1"/>
<text x="314.20" y="296.60" font-size="10.6" text-anchor="start" font-weight="normal" fill="#1a1a1a" stroke="#1a1a1a" stroke-width="0.05" letter-spacing="0.8">P66v</text>
<text x="244.20" y="256.00" font-size="24.5" text-anchor="start" font-weight="bold" fill="#000" stroke="#000" stroke-width="0.15" >D</text>
</svg></body></html>
